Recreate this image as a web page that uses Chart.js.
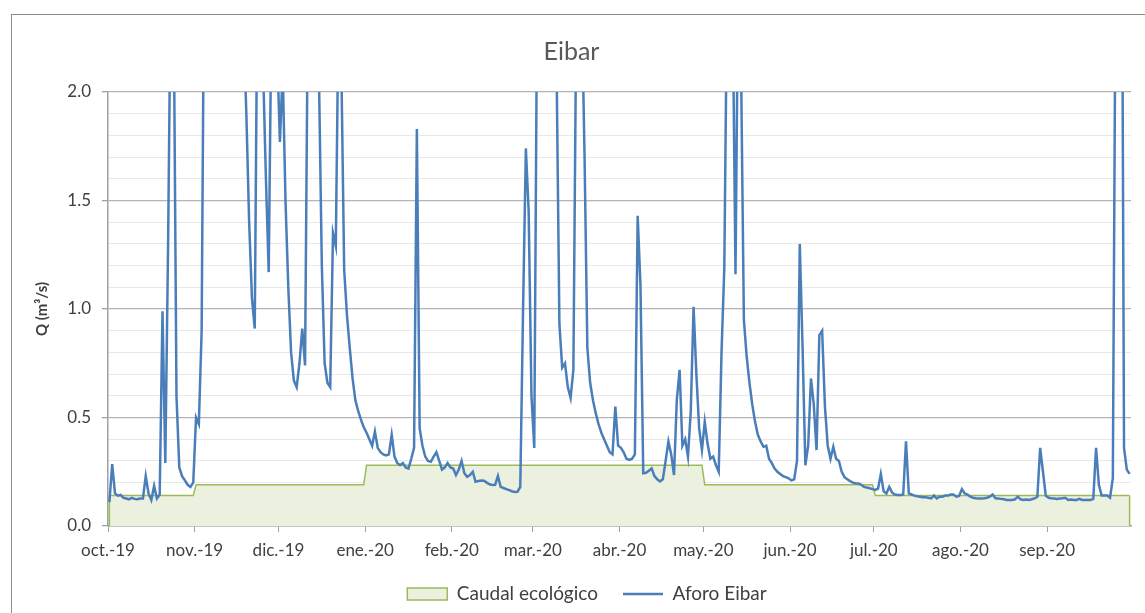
<!DOCTYPE html>
<html>
<head>
<meta charset="utf-8">
<script src="https://cdn.jsdelivr.net/npm/chart.js@4.4.1/dist/chart.umd.min.js"></script>
<style>
  html, body { margin: 0; padding: 0; background: #fff; overflow: hidden; }
  #marco { position: absolute; left: 11px; top: 14px; width: 1150px; height: 600px; border: 1px solid #8c8c8c; }
</style>
</head>
<body>
<div id="marco"><canvas id="eibarChart"></canvas></div>
<script>
// Meses del año hidrológico y días de cada uno
const meses = ['oct.-19', 'nov.-19', 'dic.-19', 'ene.-20', 'feb.-20', 'mar.-20',
               'abr.-20', 'may.-20', 'jun.-20', 'jul.-20', 'ago.-20', 'sep.-20'];
const diasMes = [31, 30, 31, 31, 29, 31, 30, 31, 30, 31, 31, 30];

// Caudal ecológico (m3/s) por mes
const caudalEcologicoMes = [0.14, 0.19, 0.19, 0.28, 0.28, 0.28, 0.28, 0.19, 0.19, 0.14, 0.14, 0.14];

// Aforo Eibar, valores diarios (m3/s)
const oct19 = [0.11, 0.285, 0.15, 0.14, 0.143, 0.13, 0.127, 0.123, 0.13, 0.125, 0.123, 0.127, 0.127, 0.23, 0.15, 0.12,
               0.185, 0.127, 0.145, 0.99, 0.29, 1.3, 2.6, 2.4, 0.6, 0.27, 0.23, 0.21, 0.19, 0.18, 0.2];
const nov19 = [0.5, 0.47, 0.9, 2.8, 3.2, 3.0, 2.8, 3.1, 2.7, 2.5, 2.8, 3.0, 2.6, 2.5, 2.7,
               2.6, 2.4, 2.3, 1.9, 1.4, 1.05, 0.91, 2.6, 2.8, 2.1, 1.6, 1.17, 2.4, 2.6, 2.2];
const dic19 = [1.77, 2.1, 1.5, 1.1, 0.8, 0.67, 0.64, 0.75, 0.91, 0.74, 2.4, 2.8, 2.6, 2.4, 2.05, 1.2,
               0.75, 0.66, 0.64, 1.35, 1.29, 2.4, 2.1, 1.18, 0.97, 0.82, 0.68, 0.58, 0.53, 0.49, 0.455];
const ene20 = [0.43, 0.40, 0.37, 0.435, 0.36, 0.34, 0.33, 0.325, 0.33, 0.42, 0.32, 0.29, 0.28, 0.29, 0.27, 0.265,
               0.31, 0.36, 1.83, 0.45, 0.37, 0.32, 0.30, 0.296, 0.32, 0.34, 0.30, 0.26, 0.27, 0.29, 0.27];
const feb20 = [0.265, 0.235, 0.26, 0.30, 0.243, 0.227, 0.235, 0.25, 0.204, 0.207, 0.21, 0.209, 0.2, 0.192, 0.189,
               0.19, 0.23, 0.18, 0.175, 0.17, 0.165, 0.16, 0.157, 0.158, 0.18, 1.0, 1.74, 1.45, 0.6];
const mar20 = [0.36, 2.4, 2.8, 3.1, 2.9, 2.7, 2.9, 2.6, 2.1, 0.93, 0.73, 0.75, 0.64, 0.59, 0.72, 2.3,
               2.6, 2.4, 1.7, 0.82, 0.66, 0.58, 0.52, 0.47, 0.43, 0.40, 0.37, 0.34, 0.33, 0.55, 0.37];
const abr20 = [0.36, 0.34, 0.31, 0.305, 0.31, 0.33, 1.43, 1.11, 0.243, 0.245, 0.255, 0.266, 0.23, 0.215, 0.205,
               0.215, 0.30, 0.39, 0.33, 0.235, 0.58, 0.72, 0.37, 0.40, 0.32, 0.53, 1.01, 0.70, 0.45, 0.35];
const may20 = [0.48, 0.38, 0.31, 0.32, 0.28, 0.25, 0.80, 1.19, 2.5, 2.8, 2.4, 1.16, 2.6, 2.1, 0.95, 0.78,
               0.66, 0.56, 0.48, 0.42, 0.39, 0.365, 0.37, 0.31, 0.29, 0.265, 0.25, 0.24, 0.23, 0.225, 0.22];
const jun20 = [0.21, 0.215, 0.30, 1.30, 0.82, 0.28, 0.37, 0.68, 0.56, 0.35, 0.88, 0.90, 0.55, 0.37, 0.31,
               0.365, 0.31, 0.30, 0.25, 0.225, 0.215, 0.207, 0.2, 0.197, 0.196, 0.19, 0.18, 0.177, 0.174, 0.17];
const jul20 = [0.166, 0.172, 0.24, 0.16, 0.15, 0.18, 0.155, 0.145, 0.143, 0.143, 0.145, 0.39, 0.15, 0.145, 0.14, 0.137,
               0.135, 0.133, 0.132, 0.13, 0.127, 0.14, 0.127, 0.135, 0.135, 0.14, 0.14, 0.145, 0.145, 0.135, 0.138];
const ago20 = [0.17, 0.15, 0.145, 0.135, 0.13, 0.128, 0.127, 0.127, 0.128, 0.13, 0.135, 0.145, 0.128, 0.127, 0.125, 0.123,
               0.12, 0.12, 0.12, 0.123, 0.135, 0.123, 0.12, 0.122, 0.12, 0.123, 0.127, 0.135, 0.36, 0.25, 0.14];
const sep20 = [0.13, 0.128, 0.127, 0.125, 0.127, 0.128, 0.13, 0.12, 0.122, 0.12, 0.12, 0.125, 0.12, 0.12, 0.12,
               0.12, 0.125, 0.36, 0.19, 0.14, 0.14, 0.14, 0.13, 0.22, 2.6, 3.0, 3.7, 0.36, 0.26, 0.24];

const aforoMeses = [oct19, nov19, dic19, ene20, feb20, mar20, abr20, may20, jun20, jul20, ago20, sep20];

// Serie diaria (x = día del año hidrológico)
const aforoPuntos = [];
const caudalPuntos = [];
let dia = 0;
aforoMeses.forEach((valores, m) => {
    valores.forEach(v => {
        aforoPuntos.push({ x: dia, y: v });
        caudalPuntos.push({ x: dia, y: caudalEcologicoMes[m] });
        dia++;
    });
});

// Inicio de cada mes (marcas del eje X, entre días)
const inicioMes = [];
let acum = 0;
diasMes.forEach(n => { inicioMes.push(acum - 0.5); acum += n; });

const fuente = 'Lato, "Open Sans", sans-serif';
const esMayor = v => Math.round(v * 10) % 5 === 0;

// Bordes verticales del área de caudal ecológico
const bordesArea = {
    id: 'bordesArea',
    afterDatasetDraw(chart, args) {
        if (args.index !== 0) return;
        const puntos = args.meta.data;
        const y0 = chart.scales.y.getPixelForValue(0);
        const ctx = chart.ctx;
        ctx.save();
        ctx.strokeStyle = '#9bbb59';
        ctx.lineWidth = 1.5;
        ctx.beginPath();
        [puntos[0], puntos[puntos.length - 1]].forEach(p => {
            ctx.moveTo(p.x, p.y);
            ctx.lineTo(p.x, y0);
        });
        ctx.stroke();
        ctx.restore();
    }
};

// La leyenda va centrada en todo el marco, no sólo en la zona sin relleno derecho
const centrarLeyenda = {
    id: 'centrarLeyenda',
    afterLayout(chart) {
        const desplazamiento = (chart.width - chart.legend.right) / 2;
        chart.legend.left += desplazamiento;
        chart.legend.right += desplazamiento;
    }
};

const ctx = document.getElementById('eibarChart').getContext('2d');
const grafico = new Chart(ctx, {
    type: 'line',
    data: {
        datasets: [
            {
                label: 'Caudal ecológico',
                data: caudalPuntos,
                borderColor: '#9bbb59',
                backgroundColor: '#ebf1de',
                borderWidth: 1.5,
                fill: 'origin',
                pointRadius: 0,
                pointStyle: 'rect',
                order: 1
            },
            {
                label: 'Aforo Eibar',
                data: aforoPuntos,
                borderColor: '#4a7ebb',
                backgroundColor: '#4a7ebb',
                borderWidth: 2.5,
                fill: false,
                pointRadius: 0,
                pointStyle: 'line',
                clip: 0,
                order: 0
            }
        ]
    },
    options: {
        responsive: true,
        maintainAspectRatio: false,
        animation: false,
        layout: { padding: { left: 0, right: 31, top: 0, bottom: 1.5 } },
        plugins: {
            title: {
                display: true,
                text: 'Eibar',
                color: '#595959',
                font: { family: fuente, size: 25, weight: 'normal' },
                padding: { top: 22, bottom: 25 }
            },
            legend: {
                position: 'bottom',
                labels: {
                    usePointStyle: true,
                    pointStyleWidth: 40,
                    boxHeight: 12,
                    padding: 25,
                    color: '#404040',
                    font: { family: fuente, size: 19 },
                    sort: (a, b) => a.datasetIndex - b.datasetIndex
                }
            },
            tooltip: { enabled: false }
        },
        scales: {
            x: {
                type: 'linear',
                min: -0.5,
                max: 365.5,
                afterBuildTicks: scale => { scale.ticks = inicioMes.map(v => ({ value: v })); },
                afterFit: scale => { scale.height = 33.5; },
                ticks: {
                    autoSkip: false,
                    maxRotation: 0,
                    padding: 8,
                    color: '#404040',
                    font: { family: fuente, size: 17 },
                    callback: value => meses[inicioMes.indexOf(value)]
                },
                grid: { drawOnChartArea: false, drawTicks: true, tickLength: 6, color: '#a0a0a0' },
                border: { color: '#a0a0a0', width: 1.5 }
            },
            y: {
                min: 0,
                max: 2,
                afterFit: scale => { scale.width = 96; },
                ticks: {
                    stepSize: 0.1,
                    autoSkip: false,
                    padding: 11,
                    color: '#404040',
                    font: { family: fuente, size: 17 },
                    callback: value => esMayor(value) ? value.toFixed(1) : ''
                },
                grid: {
                    tickLength: 6,
                    color: c => esMayor(c.tick.value) ? '#b4b4b4' : '#e8e8e8',
                    tickColor: c => esMayor(c.tick.value) ? '#a0a0a0' : 'rgba(0,0,0,0)',
                    lineWidth: c => esMayor(c.tick.value) ? 1.3 : 1
                },
                border: { color: '#a0a0a0', width: 1.5 },
                title: {
                    display: true,
                    text: 'Q (m³/s)',
                    color: '#404040',
                    font: { family: fuente, size: 15, weight: 'bold' },
                    padding: { top: 21, bottom: 0 }
                }
            }
        }
    },
    plugins: [bordesArea, centrarLeyenda]
});
</script>
</body>
</html>
